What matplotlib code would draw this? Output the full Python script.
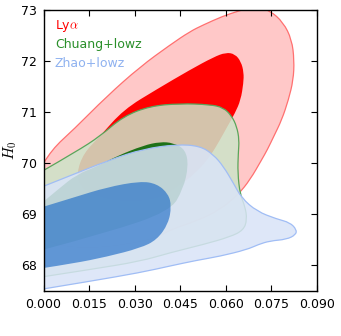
import numpy as np
import matplotlib
matplotlib.use("Agg")
import matplotlib.pyplot as plt
from matplotlib.path import Path
from matplotlib.patches import PathPatch

plt.rcParams["mathtext.fontset"] = "cm"

# ---- contour outlines (x = parameter, y = H0) ----
# Ly-alpha, outer (95%) and inner (68%)
lya_out_x = [0.0, 0.0027, 0.0099, 0.0208, 0.0318, 0.0417, 0.0482, 0.0526, 0.0590, 0.0636,
             0.0675, 0.0707, 0.0745, 0.0789, 0.0817, 0.0825, 0.0822, 0.0806, 0.0784, 0.0758,
             0.0737, 0.0718, 0.0680, 0.0641, 0.0581, 0.0504, 0.0417, 0.0373, 0.0263, 0.0153,
             0.0077, 0.0033, 0.0]
lya_out_y = [70.00, 70.27, 70.66, 71.31, 71.89, 72.32, 72.58, 72.71, 72.88, 72.97,
             73.04, 73.05, 72.99, 72.76, 72.42, 72.02, 71.63, 71.24, 70.85, 70.53,
             70.27, 70.07, 69.68, 69.39, 69.09, 68.87, 68.70, 68.54, 68.40, 68.34,
             68.37, 68.43, 68.52]
lya_in_x = [0.0186, 0.0263, 0.0373, 0.0482, 0.0560, 0.0600, 0.0630, 0.0650, 0.0659,
            0.0658, 0.0649, 0.0630, 0.0605, 0.0581, 0.0550, 0.0500, 0.0438, 0.0384, 0.0274,
            0.0164, 0.0120, 0.0109, 0.0132]
lya_in_y = [70.53, 71.05, 71.45, 71.83, 72.08, 72.17, 72.14, 71.99, 71.78,
            71.57, 71.24, 70.98, 70.72, 70.46, 70.15, 69.80, 69.53, 69.32, 69.24,
            69.37, 69.55, 69.81, 70.20]

# Chuang+lowz
chu_out_x = [0.0, 0.0108, 0.0186, 0.0263, 0.0351, 0.0449, 0.0548, 0.0592, 0.0619, 0.0636,
             0.0644, 0.0641, 0.0639, 0.0647, 0.0663, 0.0670, 0.0658, 0.0614, 0.0526, 0.0417,
             0.0318, 0.0153, 0.0]
chu_out_y = [69.86, 70.23, 70.53, 70.92, 71.12, 71.17, 71.15, 71.09, 70.93, 70.72,
             70.46, 70.20, 69.81, 69.39, 69.16, 68.90, 68.69, 68.56, 68.41, 68.25,
             68.08, 67.92, 67.78]
chu_in_x = [0.0, 0.0208, 0.0417, 0.0460, 0.0477, 0.0467, 0.0427, 0.0384, 0.0329, 0.0241,
            0.0180, 0.0109, 0.0050, 0.0]
chu_in_y = [68.31, 68.64, 69.06, 69.50, 69.95, 70.27, 70.40, 70.42, 70.35, 70.14,
            69.95, 69.78, 69.50, 69.25]

# Zhao+lowz
zha_out_x = [0.0, 0.0055, 0.0219, 0.0329, 0.0438, 0.0515, 0.0559, 0.0592, 0.0625, 0.0652,
             0.0702, 0.0767, 0.0811, 0.0833, 0.0830, 0.0800, 0.0745, 0.0707, 0.0669, 0.0581,
             0.0504, 0.0417, 0.0318, 0.0153, 0.0]
zha_out_y = [69.55, 69.68, 70.07, 70.28, 70.37, 70.34, 70.17, 69.94, 69.61, 69.32,
             69.06, 68.91, 68.84, 68.70, 68.60, 68.51, 68.48, 68.41, 68.31, 68.18,
             68.10, 67.99, 67.86, 67.69, 67.54]
zha_in_x = [0.0, 0.0099, 0.0208, 0.0318, 0.0373, 0.0411, 0.0421, 0.0411, 0.0373, 0.0318,
            0.0208, 0.0099, 0.0]
zha_in_y = [69.15, 69.33, 69.53, 69.65, 69.60, 69.40, 69.16, 68.82, 68.50, 68.34,
            68.17, 68.04, 67.95]

labels = ["Ly$\\alpha$", "Chuang+lowz", "Zhao+lowz"]
label_colors = ["#ff0000", "#2a8f2a", "#8fb2f0"]

x_ticks = [0.000, 0.015, 0.030, 0.045, 0.060, 0.075, 0.090]
y_ticks = [68, 69, 70, 71, 72, 73]


def smooth_path(xs, ys, closed=False, edge=True):
    # quadratic bezier through the midpoints of the read-off outline
    pts = np.column_stack([xs, ys])
    n = len(pts)
    if closed:
        mid = lambda i: (pts[i % n] + pts[(i + 1) % n]) / 2
        verts = [mid(-1)]
        codes = [Path.MOVETO]
        for i in range(n):
            verts += [pts[i], mid(i)]
            codes += [Path.CURVE3, Path.CURVE3]
        verts.append(verts[0])
        codes.append(Path.CLOSEPOLY)
        return Path(verts, codes)
    verts = [pts[0]]
    codes = [Path.MOVETO]
    for i in range(1, n - 1):
        end = pts[n - 1] if i == n - 2 else (pts[i] + pts[i + 1]) / 2
        verts += [pts[i], end]
        codes += [Path.CURVE3, Path.CURVE3]
    if not edge:
        verts.append(pts[0])
        codes.append(Path.CLOSEPOLY)
    return Path(verts, codes)


def draw_set(ax, out_x, out_y, in_x, in_y, out_c, out_a, line_c, in_c, in_a, z,
             in_closed=False):
    ax.add_patch(PathPatch(smooth_path(out_x, out_y, edge=False), fc=out_c, alpha=out_a,
                           lw=0, zorder=z))
    ax.add_patch(PathPatch(smooth_path(out_x, out_y), fc="none", ec=line_c, lw=0.9,
                           zorder=z + 0.1))
    ax.add_patch(PathPatch(smooth_path(in_x, in_y, closed=in_closed, edge=False),
                           fc=in_c, alpha=in_a, lw=0, zorder=z + 0.2))


# ---- figure ----
fig = plt.figure(figsize=(3.41, 3.36), dpi=100)
ax = fig.add_axes([0.1276, 0.134, 0.802, 0.836])

draw_set(ax, lya_out_x, lya_out_y, lya_in_x, lya_in_y,
         "#ffc8c8", 1.0, "#ff7070", "#ff0000", 1.0, 1, in_closed=True)
draw_set(ax, chu_out_x, chu_out_y, chu_in_x, chu_in_y,
         (205/255, 228/255, 200/255), 0.86, "#5aa55a", "#006400", 0.86, 2)
draw_set(ax, zha_out_x, zha_out_y, zha_in_x, zha_in_y,
         (217/255, 228/255, 247/255), 0.86, "#a0bdf5", (32/255, 109/255, 199/255), 0.65, 3)

# coloured legend text
for i, (txt, c) in enumerate(zip(labels, label_colors)):
    ax.text(0.042, 0.933 - i * 0.068, txt, color=c, fontsize=9,
            transform=ax.transAxes, va="baseline", ha="left", zorder=5)

ax.set_xlim(0.0, 0.09)
ax.set_ylim(67.5, 73.0)
ax.set_xticks(x_ticks)
ax.set_xticklabels(["%.3f" % v for v in x_ticks])
ax.set_yticks(y_ticks)
ax.tick_params(direction="in", top=True, right=True, length=4, width=0.8,
               labelsize=9, pad=5)
ax.set_ylabel("$H_0$", fontsize=11)
ax.yaxis.set_label_coords(-0.09, 0.5)
for s in ax.spines.values():
    s.set_linewidth(1.0)
    s.set_zorder(10)

fig.savefig("out.png", dpi=100)
